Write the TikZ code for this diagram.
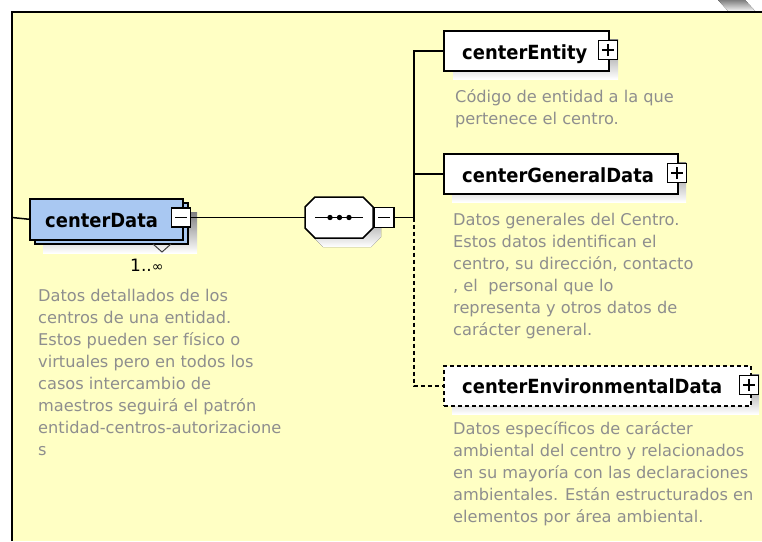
\documentclass[tikz,border=0pt]{standalone}
\usepackage{fontspec}
\setmainfont{DejaVu Sans}
\newfontfamily\boldf{DejaVu Sans}[FakeStretch=0.92]
\definecolor{bgy}{HTML}{FFFFC4}
\definecolor{boxblue}{HTML}{A9C8F2}
\definecolor{shade}{HTML}{BDBDBD}
\definecolor{desccol}{HTML}{8E8E8E}
\newcommand\plussign[1]{\draw[line width=1.2pt] ([xshift=-6pt]#1.center) -- ([xshift=6pt]#1.center) ([yshift=-6pt]#1.center) -- ([yshift=6pt]#1.center);}
\newcommand\minussign[1]{\draw[line width=1.2pt] ([xshift=-6pt]#1.center) -- ([xshift=6pt]#1.center);}
\tikzset{
  conn/.style={line width=1.5pt, draw=black},
  elbox/.style={draw=black, line width=1.5pt, fill=white, minimum width=#1, minimum height=40pt, inner sep=0pt, anchor=north west},
  pmbox/.style={draw=black, line width=1.2pt, fill=white, minimum size=19pt, inner sep=0pt},
  titletext/.style={anchor=base west, inner sep=0pt, font=\boldf\bfseries\fontsize{19.5}{20}\selectfont},
  desctext/.style={anchor=base west, inner sep=0pt, text=desccol, font=\fontsize{16.2}{22}\selectfont},
  dashy/.style={dash pattern=on 4pt off 3pt},
}
\begin{document}
\begin{tikzpicture}[x=1pt, y=-1pt]
\useasboundingbox (0,0) rectangle (762,541);
\fill[white] (0,0) rectangle (762,541);
\fill[shade] (718,0) -- (745,0) -- (756,12) -- (729,12) -- cycle;
\fill[bgy] (12,12) rectangle (762,541);
\draw[line width=2.5pt] (12,541) -- (12,12) -- (762,12);

% centerData
\fill[shade] (43,212) rectangle (197,253);
\draw[fill=boxblue, line width=1.5pt] (35,203) rectangle (188,244);
\node[draw=black, fill=boxblue, line width=1.5pt, minimum width=153pt, minimum height=41pt, inner sep=0pt, anchor=north west] (cd) at (29,198) {};
\node[pmbox] (cdm) at (181,217.5) {};
\minussign{cdm}
\draw[line width=1pt, black!75] (153,244) -- (162,252) -- (171,244);
\node[titletext] (cdt) at (45,227) {centerData};
\node[anchor=base west, inner sep=0pt] (cdmult) at (130,271) {\fontsize{17}{17}\selectfont 1..\fontsize{14}{14}\selectfont ∞};
\node[desctext] (cdd) at (38,301) {\parbox[t]{300pt}{\raggedright Datos detallados de los\\centros de una entidad.\\Estos pueden ser físico o\\virtuales pero en todos los\\casos intercambio de\\maestros seguirá el patrón\\entidad-centros-autorizacione\\s}};
\coordinate (lb) at (12,217.5);
\draw[conn] (lb) -- (cd.west);

% sequence compositor
\fill[shade] (323,206) -- (371,206) -- (381,216) -- (381,237) -- (371,247) -- (323,247) -- (313,237) -- (313,216) -- cycle;
\node[minimum width=68pt, minimum height=41pt, inner sep=0pt] (seq) at (339,217.5) {};
\draw[line width=1.5pt, fill=white] (315,197) -- (363,197) -- (373,207) -- (373,228) -- (363,238) -- (315,238) -- (305,228) -- (305,207) -- cycle;
\draw[line width=1.3pt] (315,217.5) -- (363,217.5);
\fill (330,217.5) circle (2.7) (339.5,217.5) circle (2.7) (349,217.5) circle (2.7);
\node[pmbox, minimum size=20pt] (sqm) at (384,217.5) {};
\minussign{sqm}
\draw[conn] (cdm.east) -- (seq.west);
\coordinate (bj) at (414,217.5);
\draw[conn] (sqm.east) -- (bj);

% centerEntity
\fill[shade] (453,39) rectangle (618,79);
\node[elbox=165pt] (ce) at (443,30) {};
\node[pmbox] (cep) at (608,50) {};
\plussign{cep}
\node[titletext] (cet) at (462,59) {centerEntity};
\node[desctext] (ced) at (455,102) {\parbox[t]{300pt}{\raggedright Código de entidad a la que\\pertenece el centro.}};

% centerGeneralData
\fill[shade] (452,162) rectangle (686,202);
\node[elbox=234pt] (cg) at (443,153) {};
\node[pmbox] (cgp) at (677,173) {};
\plussign{cgp}
\node[titletext] (cgt) at (462,182) {centerGeneralData};
\node[desctext] (cgd) at (453,225) {\parbox[t]{300pt}{\raggedright Datos generales del Centro.\\Estos datos identifican el\\centro, su dirección, contacto\\, el\ \ personal que lo\\representa y otros datos de\\carácter general.}};

% centerEnvironmentalData
\fill[shade] (452,374) rectangle (759,414);
\node[elbox=307pt, dashy] (cv) at (443,365) {};
\node[pmbox] (cvp) at (749,385) {};
\plussign{cvp}
\node[titletext] (cvt) at (462,393) {centerEnvironmentalData};
\node[desctext] (cvd) at (453,434) {\parbox[t]{320pt}{\raggedright Datos específicos de carácter\\ambiental del centro y relacionados\\en su mayoría con las declaraciones\\ambientales. Están estructurados en\\elementos por área ambiental.}};

% bus connectors
\draw[conn] (ce.west) -| (bj);
\draw[conn] (cg.west) -- (cg.west -| bj);
\draw[conn, dashy] (bj) |- (cv.west);
\end{tikzpicture}
\end{document}
